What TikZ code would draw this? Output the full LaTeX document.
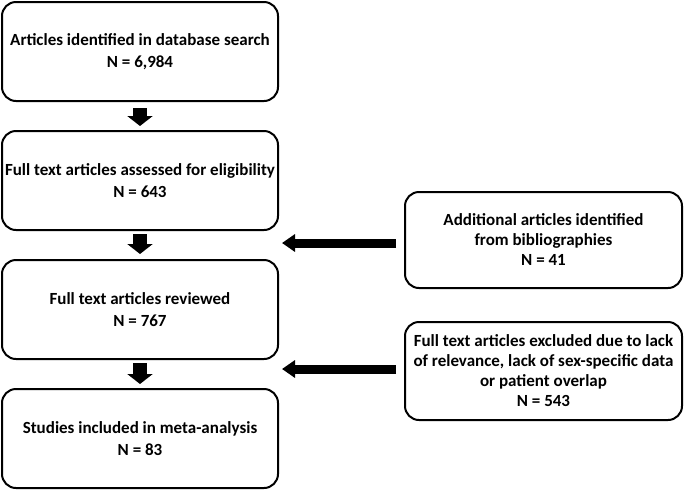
\documentclass[tikz,border=0pt]{standalone}
\usepackage{fontspec}
\setmainfont{Carlito}
\usetikzlibrary{arrows.meta}
\begin{document}
\begin{tikzpicture}[x=1pt,y=-1pt,
  box/.style={draw=black, line width=2pt, rounded corners=14pt, align=center,
    font=\fontsize{17}{20}\selectfont\bfseries, inner sep=0pt},
  lbox/.style={box, font=\fontsize{17}{22}\selectfont\bfseries, minimum width=276pt, minimum height=99pt},
  rbox/.style={box, minimum width=277pt},
  downarrow/.style={line width=14pt, -{Triangle[width=25pt,length=10pt]}},
  leftarrow/.style={line width=9pt, -{Triangle[width=17pt,length=13pt]}}]
\useasboundingbox (0,0) rectangle (685,491);
\node[lbox] (b1) at (140,51.5) {Articles identified in database search\\N = 6,984};
\node[lbox] (b2) at (140,180.5) {Full text articles assessed for eligibility\\N = 643};
\node[lbox] (b3) at (140,309.5) {Full text articles reviewed\\N = 767};
\node[lbox] (b4) at (140,438.5) {Studies included in meta-analysis\\N = 83};
\node[rbox, minimum height=96pt] (ba) at (543.5,240) {Additional articles identified\\from bibliographies\\N = 41};
\node[rbox, minimum height=98pt] (bb) at (543.5,371) {Full text articles excluded due to lack\\of relevance, lack of sex-specific data\\or patient overlap\\N = 543};
\draw[downarrow, shorten <=6pt, shorten >=4pt] (b1) -- (b2);
\draw[downarrow, shorten <=3pt, shorten >=5pt] (b2) -- (b3);
\draw[downarrow, shorten <=3pt, shorten >=4pt] (b3) -- (b4);
\coordinate (ta) at (282,243);
\coordinate (tb) at (282,369);
\draw[leftarrow, shorten <=8pt] (ba.west |- ta) -- (ta);
\draw[leftarrow, shorten <=8pt] (bb.west |- tb) -- (tb);
\end{tikzpicture}
\end{document}
